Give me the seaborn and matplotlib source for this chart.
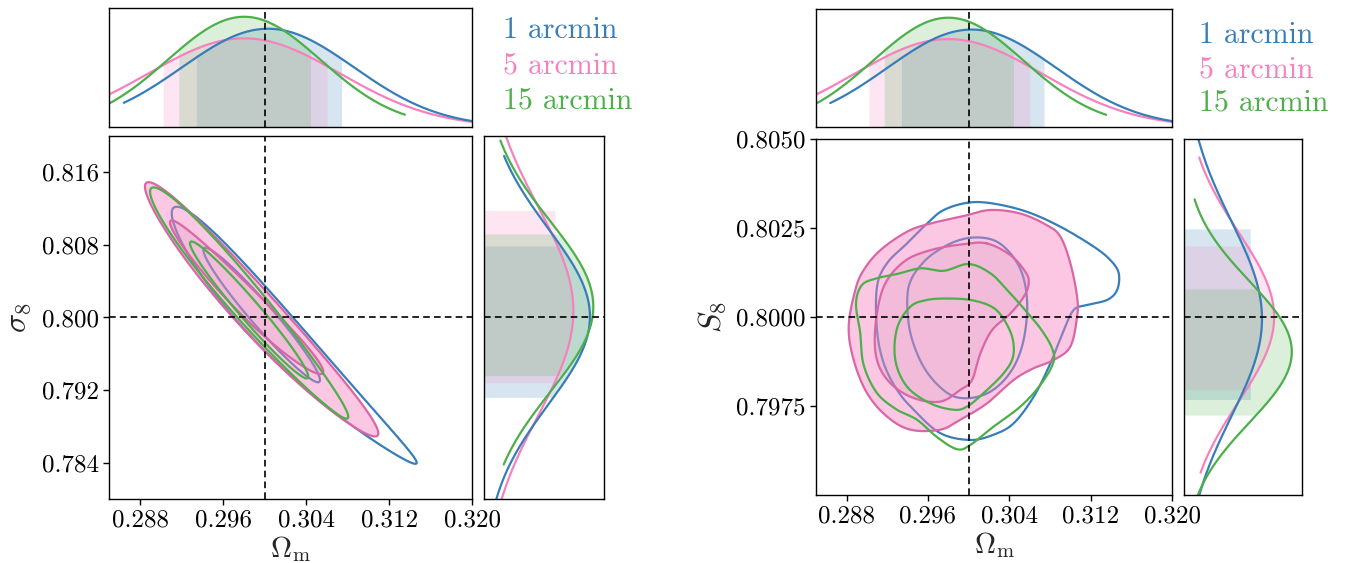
import numpy as np
import matplotlib
matplotlib.use("Agg")
import matplotlib.pyplot as plt
import seaborn as sns

# ---------------- data ----------------
series = ["1 arcmin", "5 arcmin", "15 arcmin"]
truth_om, truth_s8, truth_S8 = 0.300, 0.800, 0.800

# Omega_m marginal (same in both panels): peak, width, drawn range, 68% band
om_peak = [0.3003, 0.2980, 0.2980]
om_width = [0.0083, 0.0092, 0.0074]
om_range_lo = [0.2864, 0.2800, 0.2800]
om_range_hi = [0.3300, 0.3300, 0.3135]
om_band_lo = [0.2934, 0.2902, 0.2917]
om_band_hi = [0.3074, 0.3060, 0.3044]

# sigma_8 marginal
s8_peak = [0.8001, 0.8007, 0.8012]
s8_width = [0.0097, 0.0115, 0.0094]
s8_range_lo = [0.7750, 0.7750, 0.7838]
s8_range_hi = [0.8178, 0.8250, 0.8195]
s8_band_lo = [0.7912, 0.7928, 0.7936]
s8_band_hi = [0.8079, 0.8118, 0.8092]

# S_8 marginal
S8_peak = [0.79995, 0.80000, 0.79902]
S8_width = [0.00275, 0.00238, 0.00199]
S8_range_lo = [0.7940, 0.79562, 0.7940]
S8_range_hi = [0.8060, 0.80449, 0.80331]
S8_band_lo = [0.79768, 0.79796, 0.79724]
S8_band_hi = [0.80248, 0.80200, 0.80079]

# Omega_m - sigma_8 credible regions: low / high Omega_m tips, half-thickness,
# bend of the ridge and narrowing toward high Omega_m
tip95_om_lo = [0.29102, 0.28844, 0.28893]
tip95_s8_lo = [0.81148, 0.81442, 0.81386]
tip95_om_hi = [0.31464, 0.31094, 0.30804]
tip95_s8_hi = [0.78400, 0.78724, 0.78907]
thick95 = [0.0033, 0.0034, 0.0029]
bend95 = [-0.0012, -0.0008, 0.0]
taper95 = [0.5, 0.15, 0.2]
tip68_om_lo = [0.29407, 0.29085, 0.29278]
tip68_s8_lo = [0.80744, 0.81048, 0.80818]
tip68_om_hi = [0.30531, 0.30563, 0.30419]
tip68_s8_hi = [0.79311, 0.79403, 0.79348]
thick68 = [0.0019, 0.0020, 0.0017]
bend68 = [0.0, -0.0005, 0.0]
taper68 = [0.0, 0.0, 0.0]

# Omega_m - S_8 credible-region outlines
blue95_om = [0.30000, 0.30246, 0.30573, 0.30901, 0.31228, 0.31392, 0.31474, 0.31458, 0.31360,
             0.31163, 0.31032, 0.30934, 0.30803, 0.30639, 0.30442, 0.30246, 0.30016, 0.29722,
             0.29459, 0.29296, 0.29165, 0.29099, 0.29099, 0.29197, 0.29394, 0.29591, 0.29754]
blue95_S8 = [0.80322, 0.80319, 0.80296, 0.80254, 0.80198, 0.80160, 0.80123, 0.80076, 0.80048,
             0.80034, 0.80020, 0.79963, 0.79870, 0.79776, 0.79701, 0.79669, 0.79654, 0.79673,
             0.79739, 0.79795, 0.79870, 0.79963, 0.80085, 0.80151, 0.80207, 0.80263, 0.80301]
blue68_om = [0.30016, 0.30246, 0.30410, 0.30524, 0.30573, 0.30557, 0.30491, 0.30377, 0.30213,
             0.30016, 0.29820, 0.29623, 0.29492, 0.29410, 0.29410, 0.29558, 0.29787]
blue68_S8 = [0.80223, 0.80216, 0.80179, 0.80123, 0.80048, 0.79963, 0.79889, 0.79832, 0.79790,
             0.79772, 0.79781, 0.79832, 0.79898, 0.79982, 0.80085, 0.80155, 0.80202]
pink95_om = [0.30213, 0.30508, 0.30770, 0.30901, 0.30999, 0.31065, 0.31065, 0.30999, 0.30835,
             0.30639, 0.30442, 0.30180, 0.29918, 0.29722, 0.29427, 0.29197, 0.29001, 0.28870,
             0.28821, 0.28886, 0.28968, 0.29132, 0.29394, 0.29623, 0.29951]
pink95_S8 = [0.80301, 0.80291, 0.80258, 0.80226, 0.80151, 0.80057, 0.80001, 0.79917, 0.79879,
             0.79856, 0.79823, 0.79757, 0.79711, 0.79683, 0.79683, 0.79720, 0.79786, 0.79879,
             0.79973, 0.80076, 0.80132, 0.80188, 0.80240, 0.80263, 0.80284]
pink68_om = [0.30180, 0.30410, 0.30557, 0.30590, 0.30541, 0.30410, 0.30229, 0.30115, 0.30033,
             0.29918, 0.29722, 0.29459, 0.29230, 0.29099, 0.29083, 0.29165, 0.29361, 0.29623, 0.29951]
pink68_S8 = [0.80207, 0.80174, 0.80127, 0.80095, 0.80057, 0.80010, 0.79963, 0.79898, 0.79823,
             0.79795, 0.79762, 0.79772, 0.79814, 0.79879, 0.79973, 0.80085, 0.80155, 0.80188, 0.80205]
green95_om = [0.30000, 0.30213, 0.30377, 0.30541, 0.30704, 0.30819, 0.30829, 0.30704, 0.30508,
              0.30246, 0.30016, 0.29885, 0.29689, 0.29492, 0.29296, 0.29099, 0.28968, 0.28935,
              0.28893, 0.28952, 0.29099, 0.29296, 0.29525, 0.29754]
green95_S8 = [0.80149, 0.80123, 0.80076, 0.80024, 0.79968, 0.79912, 0.79870, 0.79809, 0.79748,
              0.79692, 0.79640, 0.79628, 0.79662, 0.79711, 0.79739, 0.79786, 0.79865, 0.79954,
              0.80038, 0.80090, 0.80109, 0.80121, 0.80137, 0.80130]
green68_om = [0.30016, 0.30213, 0.30328, 0.30426, 0.30436, 0.30344, 0.30147, 0.29984, 0.29853,
              0.29623, 0.29394, 0.29279, 0.29296, 0.29427, 0.29591, 0.29787]
green68_S8 = [0.80048, 0.80031, 0.80001, 0.79945, 0.79889, 0.79842, 0.79786, 0.79748, 0.79739,
              0.79757, 0.79804, 0.79879, 0.79968, 0.80029, 0.80048, 0.80052]

om_ticks = [0.288, 0.296, 0.304, 0.312, 0.320]
s8_ticks = [0.784, 0.792, 0.800, 0.808, 0.816]
S8_ticks = [0.7975, 0.8000, 0.8025, 0.8050]

# ---------------- style ----------------
sns.set_theme(style="ticks")
plt.rcParams.update({
    "font.family": "serif",
    "font.serif": ["cmr10", "DejaVu Serif"],
    "mathtext.fontset": "cm",
    "axes.formatter.use_mathtext": True,
    "axes.unicode_minus": False,
    "axes.edgecolor": "black",
    "axes.linewidth": 1.0,
    "xtick.color": "black", "ytick.color": "black",
    "xtick.major.size": 4, "ytick.major.size": 4,
    "xtick.major.width": 1.0, "ytick.major.width": 1.0,
})
pal = sns.color_palette("Set1")
cols = [pal[1], pal[7], pal[2]]       # blue, pink, green
pink_line = "#d966a6"
inner_tint = "#c98fb8"

W, H = 1353, 563
fig = plt.figure(figsize=(W / 100, H / 100), dpi=100)


def rect(x0, y0, x1, y1):
    return [x0 / W, 1 - y1 / H, (x1 - x0) / W, (y1 - y0) / H]


def npdf(x, m, s):
    return np.exp(-0.5 * ((x - m) / s) ** 2) / (s * np.sqrt(2 * np.pi))


def dashed_v(ax, x):
    ax.axvline(x, color="black", ls=(0, (4, 2.5)), lw=1.2, zorder=10)


def dashed_h(ax, y):
    ax.axhline(y, color="black", ls=(0, (4, 2.5)), lw=1.2, zorder=10)


def top_marginal(ax, frac=0.558, ymax=58.2):
    Hb = frac * ymax
    for i in range(3):
        xf = np.linspace(om_band_lo[i], om_band_hi[i], 200)
        ax.fill_between(xf, 0, np.maximum(npdf(xf, om_peak[i], om_width[i]), Hb),
                        color=cols[i], alpha=0.2, lw=0)
    for i in [1, 0, 2]:
        x = np.linspace(om_range_lo[i], om_range_hi[i], 400)
        sns.lineplot(x=x, y=npdf(x, om_peak[i], om_width[i]), color=cols[i], lw=1.6,
                     estimator=None, sort=False, ax=ax)
    ax.set_xlim(0.285, 0.320)
    ax.set_ylim(0, ymax)
    dashed_v(ax, truth_om)
    ax.set_xticks([]); ax.set_yticks([])
    ax.set_xlabel(""); ax.set_ylabel("")


def side_marginal(ax, peak, width, rlo, rhi, blo, bhi, lim, xmax, frac, truth):
    Hb = frac * xmax
    for i in range(3):
        yf = np.linspace(blo[i], bhi[i], 200)
        ax.fill_betweenx(yf, 0, np.maximum(npdf(yf, peak[i], width[i]), Hb),
                         color=cols[i], alpha=0.2, lw=0)
    for i in [1, 0, 2]:
        y = np.linspace(rlo[i], rhi[i], 400)
        sns.lineplot(x=npdf(y, peak[i], width[i]), y=y, color=cols[i], lw=1.6,
                     estimator=None, sort=False, ax=ax)
    ax.set_ylim(*lim)
    ax.set_xlim(0, xmax)
    dashed_h(ax, truth)
    ax.set_xticks([]); ax.set_yticks([])
    ax.set_xlabel(""); ax.set_ylabel("")


def smooth_closed(x, y, n=24):
    P = np.column_stack([x, y])
    N = len(P)
    t = np.linspace(0, 1, n, endpoint=False)[:, None]
    out = []
    for i in range(N):
        p0, p1, p2, p3 = P[i - 1], P[i], P[(i + 1) % N], P[(i + 2) % N]
        out.append(0.5 * (2 * p1 + (-p0 + p2) * t + (2 * p0 - 5 * p1 + 4 * p2 - p3) * t ** 2
                          + (-p0 + 3 * p1 - 3 * p2 + p3) * t ** 3))
    out = np.vstack(out + [out[0][:1]])
    return out[:, 0], out[:, 1]


# ---------------- left panel: Omega_m - sigma_8 ----------------
axL = fig.add_axes(rect(109.3, 136, 472.3, 499))
axLt = fig.add_axes(rect(109.3, 8, 472.3, 127))
axLr = fig.add_axes(rect(484, 136, 604.3, 499))

OM, S8g = np.meshgrid(np.linspace(0.285, 0.320, 700), np.linspace(0.78, 0.82, 700))


def region(i, lvl):
    if lvl == 95:
        a, b, c, d = tip95_om_lo[i], tip95_s8_lo[i], tip95_om_hi[i], tip95_s8_hi[i]
        w, bend, tap = thick95[i], bend95[i], taper95[i]
    else:
        a, b, c, d = tip68_om_lo[i], tip68_s8_lo[i], tip68_om_hi[i], tip68_s8_hi[i]
        w, bend, tap = thick68[i], bend68[i], taper68[i]
    cm, cs = (a + c) / 2, (b + d) / 2
    slope = (d - b) / (c - a)
    T = (c - a) / 2
    u = (OM - cm) / T
    ridge = cs + slope * (OM - cm) + bend * (1 - u ** 2)
    width = w * np.clip(1 - tap * u, 0.05, None)
    return u ** 2 + ((S8g - ridge) / width) ** 2


# blue lines (below pink fill)
for lvl in (95, 68):
    axL.contour(OM, S8g, region(0, lvl), levels=[1], colors=[cols[0]], linewidths=1.6, zorder=2)
# pink filled
axL.contourf(OM, S8g, region(1, 95), levels=[-1, 1], colors=[cols[1]], alpha=0.44, zorder=3)
axL.contourf(OM, S8g, region(1, 68), levels=[-1, 1], colors=[inner_tint], alpha=0.2, zorder=3)
for lvl in (95, 68):
    axL.contour(OM, S8g, region(1, lvl), levels=[1], colors=[pink_line], linewidths=1.6, zorder=4)
for lvl in (95, 68):
    axL.contour(OM, S8g, region(2, lvl), levels=[1], colors=[cols[2]], linewidths=1.6, zorder=5)

axL.set_xlim(0.285, 0.320)
axL.set_ylim(0.78, 0.82)
axL.set_xticks(om_ticks)
axL.set_xticklabels([f"{v:.3f}" for v in om_ticks])
axL.set_yticks(s8_ticks)
axL.set_yticklabels([f"{v:.3f}" for v in s8_ticks])
axL.tick_params(labelsize=18)
dashed_v(axL, truth_om); dashed_h(axL, truth_s8)
axL.set_xlabel(r"$\Omega_{\rm m}$", fontsize=21, labelpad=2)
axL.set_ylabel(r"$\sigma_8$", fontsize=23, labelpad=6)

top_marginal(axLt)
side_marginal(axLr, s8_peak, s8_width, s8_range_lo, s8_range_hi, s8_band_lo, s8_band_hi,
              (0.78, 0.82), 46.7, 0.59, truth_s8)

# ---------------- right panel: Omega_m - S_8 ----------------
axR = fig.add_axes(rect(816, 139.3, 1172.3, 494.7))
axRt = fig.add_axes(rect(816, 9, 1172.3, 127))
axRr = fig.add_axes(rect(1184, 139.3, 1302.3, 494.7))

for xs, ys in [(blue95_om, blue95_S8), (blue68_om, blue68_S8)]:
    sx, sy = smooth_closed(xs, ys)
    axR.plot(sx, sy, color=cols[0], lw=1.6, zorder=2)
sx, sy = smooth_closed(pink95_om, pink95_S8)
axR.fill(sx, sy, color=cols[1], alpha=0.44, lw=0, zorder=3)
axR.plot(sx, sy, color=pink_line, lw=1.6, zorder=4)
sx, sy = smooth_closed(pink68_om, pink68_S8)
axR.fill(sx, sy, color=inner_tint, alpha=0.2, lw=0, zorder=3)
axR.plot(sx, sy, color=pink_line, lw=1.6, zorder=4)
for xs, ys in [(green95_om, green95_S8), (green68_om, green68_S8)]:
    sx, sy = smooth_closed(xs, ys)
    axR.plot(sx, sy, color=cols[2], lw=1.6, zorder=5)

axR.set_xlim(0.285, 0.320)
axR.set_ylim(0.795, 0.805)
axR.set_xticks(om_ticks)
axR.set_xticklabels([f"{v:.3f}" for v in om_ticks])
axR.set_yticks(S8_ticks)
axR.set_yticklabels([f"{v:.4f}" for v in S8_ticks])
axR.tick_params(labelsize=18)
dashed_v(axR, truth_om); dashed_h(axR, truth_S8)
axR.set_xlabel(r"$\Omega_{\rm m}$", fontsize=21, labelpad=2)
axR.set_ylabel(r"$S_8$", fontsize=23, labelpad=6)

top_marginal(axRt)
side_marginal(axRr, S8_peak, S8_width, S8_range_lo, S8_range_hi, S8_band_lo, S8_band_hi,
              (0.795, 0.805), 220, 0.56, truth_S8)

# legends as coloured text
for (x0, ys) in [(503, [30, 66, 101]), (1199, [35, 70, 103])]:
    for i, yy in enumerate(ys):
        fig.text(x0 / W, 1 - yy / H, series[i], color=cols[i], fontsize=21.5,
                 ha="left", va="center")

fig.savefig("out.png", dpi=100)
